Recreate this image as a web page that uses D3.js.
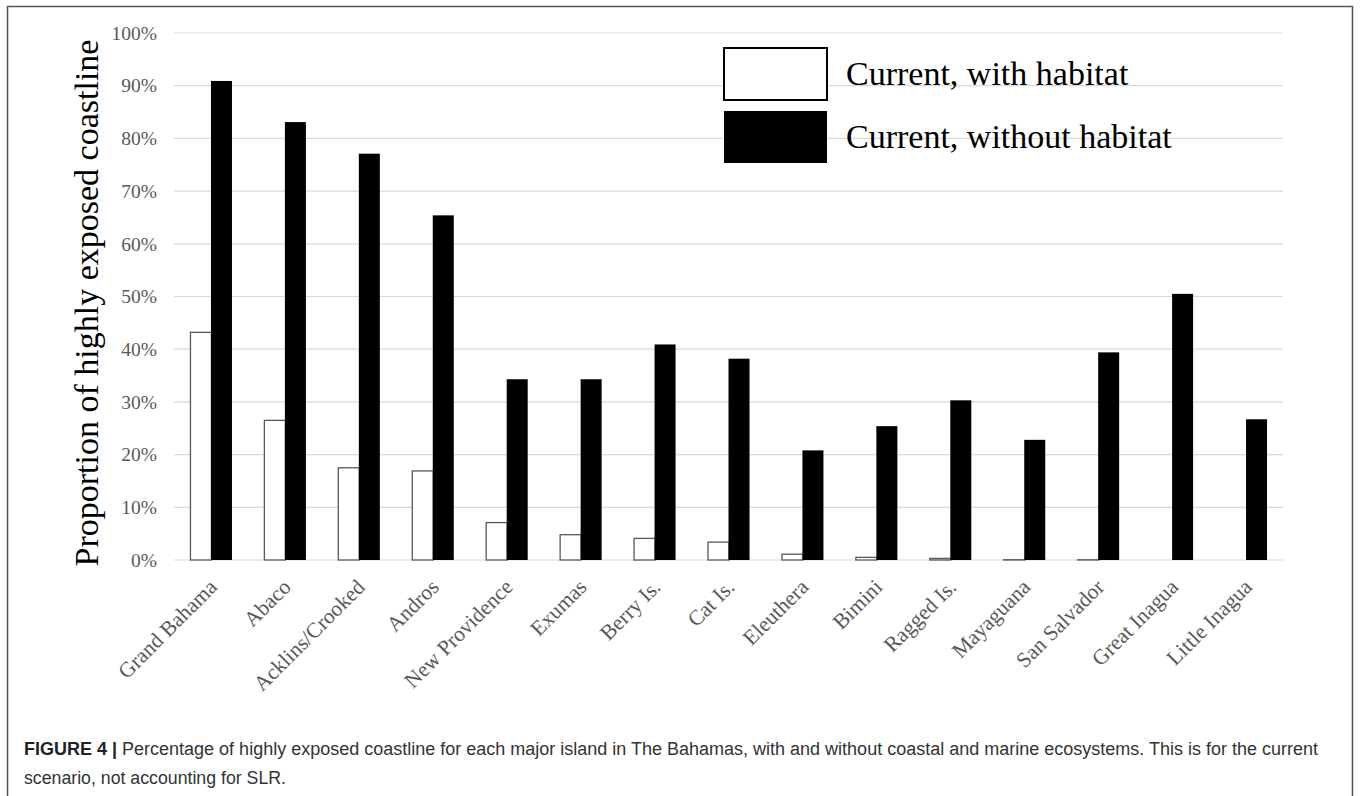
<!DOCTYPE html>
<html>
<head>
<meta charset="utf-8">
<script src="https://cdn.jsdelivr.net/npm/d3@7"></script>
<style>
  html, body { margin: 0; padding: 0; background: #fff; }
  svg { display: block; }
</style>
</head>
<body>
<svg id="chart" width="1360" height="796"></svg>
<script>
const islands = ["Grand Bahama", "Abaco", "Acklins/Crooked", "Andros", "New Providence", "Exumas",
  "Berry Is.", "Cat Is.", "Eleuthera", "Bimini", "Ragged Is.", "Mayaguana", "San Salvador",
  "Great Inagua", "Little Inagua"];
const withHabitat = [0.432, 0.265, 0.175, 0.169, 0.071, 0.048, 0.041, 0.034, 0.011, 0.005, 0.003, 0.0005, 0.0004, 0, 0];
const withoutHabitat = [0.909, 0.831, 0.771, 0.654, 0.343, 0.343, 0.409, 0.382, 0.208, 0.254, 0.303, 0.228, 0.394, 0.505, 0.267];
const seriesNames = ["Current, with habitat", "Current, without habitat"];
const yTicks = [0, 0.1, 0.2, 0.3, 0.4, 0.5, 0.6, 0.7, 0.8, 0.9, 1.0];
const yTitle = "Proportion of highly exposed coastline";
const captionBold = "FIGURE 4 |";
const captionLine1 = " Percentage of highly exposed coastline for each major island in The Bahamas, with and without coastal and marine ecosystems. This is for the current";
const captionLine2 = "scenario, not accounting for SLR.";

(function () {
const svg = d3.select("#chart");
const serif = "'Liberation Serif', 'Times New Roman', serif";
const sans = "'Liberation Sans', Arial, sans-serif";

// frame
svg.append("path")
  .attr("d", "M7.5,800 V6.5 H1352.5 V800")
  .attr("fill", "none").attr("stroke", "#555").attr("stroke-width", 1.5);

const pLeft = 174, pRight = 1283, pTop = 33, pBottom = 560;
const x0 = d3.scaleBand().domain(islands).range([pLeft, pRight]).padding(0);
const x1 = d3.scaleBand().domain(seriesNames).range([0, x0.bandwidth()]).paddingInner(0).paddingOuter(0.76);
const y = d3.scaleLinear().domain([0, 1]).range([pBottom, pTop]);

// gridlines
svg.append("g").selectAll("line").data(yTicks).join("line")
  .attr("x1", pLeft).attr("x2", pRight)
  .attr("y1", d => y(d)).attr("y2", d => y(d))
  .attr("stroke", "#d9d9d9").attr("stroke-width", 1.2);

// y axis labels
const yAxis = d3.axisLeft(y).tickValues(yTicks).tickFormat(d3.format(".0%")).tickSize(0).tickPadding(0);
const gy = svg.append("g").attr("transform", `translate(157,0)`).call(yAxis);
gy.select(".domain").remove();
gy.selectAll("text").attr("font-family", serif).attr("font-size", 19.5).attr("fill", "#595959");

// y title
svg.append("text")
  .attr("transform", `translate(98,303) rotate(-90)`)
  .attr("text-anchor", "middle")
  .attr("font-family", serif).attr("font-size", 34).attr("fill", "#000")
  .text(yTitle);

// bars
const groups = svg.append("g").selectAll("g").data(islands).join("g")
  .attr("transform", d => `translate(${x0(d)},0)`);
groups.append("rect")
  .attr("x", x1(seriesNames[0]) + 0.5)
  .attr("width", x1.bandwidth())
  .attr("y", (d, i) => y(withHabitat[i]))
  .attr("height", (d, i) => y(0) - y(withHabitat[i]))
  .attr("fill", "#fff").attr("stroke", "#595959").attr("stroke-width", 1.3);
groups.append("rect")
  .attr("x", x1(seriesNames[1]))
  .attr("width", x1.bandwidth())
  .attr("y", (d, i) => y(withoutHabitat[i]))
  .attr("height", (d, i) => y(0) - y(withoutHabitat[i]))
  .attr("fill", "#000");

// x labels
const xAxis = d3.axisBottom(x0).tickSize(0).tickPadding(0);
const gx = svg.append("g").attr("transform", `translate(2,583)`).call(xAxis);
gx.select(".domain").remove();
gx.selectAll("text")
  .attr("font-family", serif).attr("font-size", 21.5).attr("fill", "#595959")
  .attr("text-anchor", "end")
  .attr("y", 0).attr("dy", "0.35em")
  .attr("transform", "rotate(-45)");

// legend
const legend = svg.append("g");
const legendY = [48, 111];
seriesNames.forEach((name, i) => {
  legend.append("rect")
    .attr("x", 724).attr("y", legendY[i])
    .attr("width", 103).attr("height", 52)
    .attr("fill", i === 0 ? "#fff" : "#000")
    .attr("stroke", "#000").attr("stroke-width", i === 0 ? 2 : 0);
  legend.append("text")
    .attr("x", 846).attr("y", legendY[i] + 37)
    .attr("font-family", serif).attr("font-size", 34).attr("fill", "#000")
    .text(name);
});

// caption
const cap = svg.append("text")
  .attr("x", 24).attr("y", 755)
  .attr("font-family", sans).attr("font-size", 18).attr("fill", "#333")
  .attr("textLength", 1294).attr("lengthAdjust", "spacingAndGlyphs");
cap.append("tspan").attr("font-weight", "bold").attr("fill", "#222").text(captionBold);
cap.append("tspan").text(captionLine1);
svg.append("text")
  .attr("x", 24).attr("y", 784)
  .attr("font-family", sans).attr("font-size", 18).attr("fill", "#333")
  .attr("textLength", 262).attr("lengthAdjust", "spacingAndGlyphs")
  .text(captionLine2);
})();
</script>
</body>
</html>
